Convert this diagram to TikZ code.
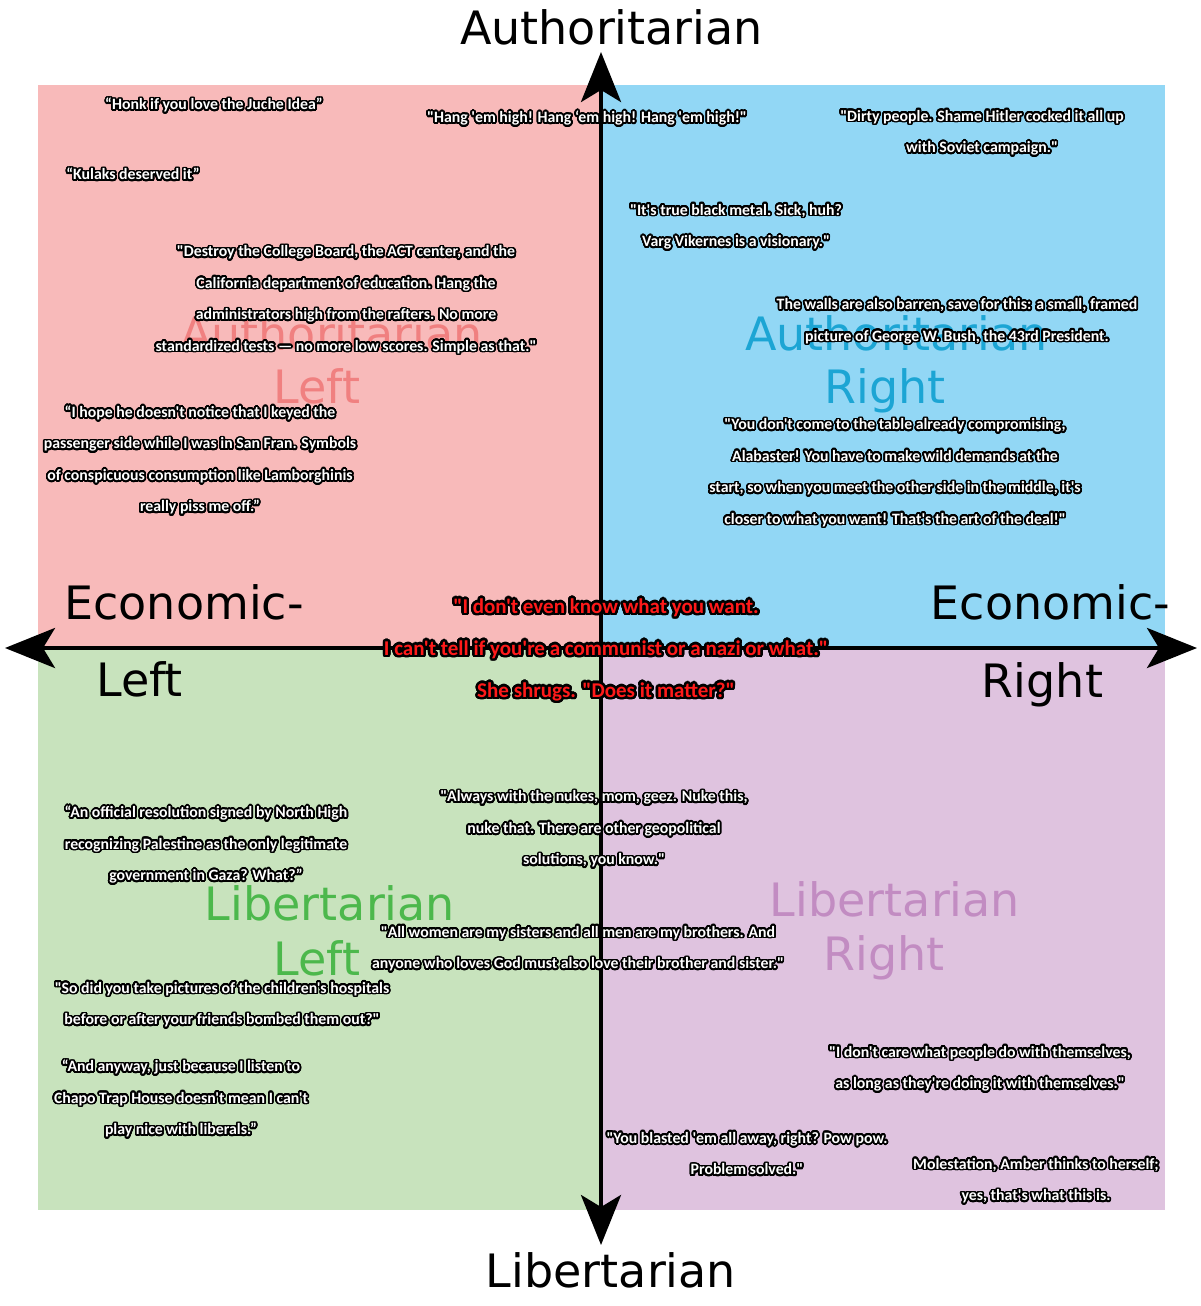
\documentclass[tikz,border=0pt]{standalone}
\usepackage{fontspec}
\usepackage[copies]{contour}
\usetikzlibrary{arrows.meta}
\newfontfamily\dvs{DejaVu Sans}
\newfontfamily\qf{Carlito}
\definecolor{bgAL}{HTML}{F8BABA}
\definecolor{bgAR}{HTML}{92D7F5}
\definecolor{bgLL}{HTML}{C8E3BD}
\definecolor{bgLR}{HTML}{DFC3DF}
\definecolor{tAL}{HTML}{F08080}
\definecolor{tAR}{HTML}{1CA5D4}
\definecolor{tLL}{HTML}{4CB84C}
\definecolor{tLR}{HTML}{C28CC2}
\definecolor{qred}{HTML}{FF1A1A}
\contournumber{32}
\newcommand\ql[1]{\contour{black}{#1}}
\tikzset{
  bigtxt/.style={font=\dvs\fontsize{46}{55}\selectfont, anchor=base, inner sep=0pt},
  quote/.style={font=\qf\bfseries\fontsize{15.8}{31.5}\selectfont\contourlength{1.7pt}, text=white, align=center, inner sep=0pt, yshift=-2pt},
  redquote/.style={font=\qf\bfseries\fontsize{21}{42}\selectfont\contourlength{2.4pt}, text=qred, align=center, inner sep=0pt},
  axis/.style={line width=4pt, draw=black, {Stealth[length=50pt,width=40pt,inset=12pt]}-{Stealth[length=50pt,width=40pt,inset=12pt]}}
}
\begin{document}
\begin{tikzpicture}[x=1pt,y=-1pt]
\useasboundingbox (0,0) rectangle (1200,1306);
% quadrants
\fill[bgAL] (38,85) rectangle (601,648);
\fill[bgAR] (601,85) rectangle (1165,648);
\fill[bgLL] (38,648) rectangle (601,1210);
\fill[bgLR] (601,648) rectangle (1165,1210);
% quadrant labels
\node[bigtxt, text=tAL] (alA) at (331.5,350) {Authoritarian};
\node[bigtxt, text=tAL] (alB) at (317,403) {Left};
\node[bigtxt, text=tAR] (arA) at (896.5,350) {Authoritarian};
\node[bigtxt, text=tAR] (arB) at (885,403) {Right};
\node[bigtxt, text=tLL] (llA) at (330,920) {Libertarian};
\node[bigtxt, text=tLL] (llB) at (317,975) {Left};
\node[bigtxt, text=tLR] (lrA) at (895,916) {Libertarian};
\node[bigtxt, text=tLR] (lrB) at (884,970) {Right};
% axes
\coordinate (axL) at (5,648);
\coordinate (axR) at (1197,648);
\coordinate (axT) at (601,52);
\coordinate (axB) at (601,1245);
\draw[axis] (axL) -- (axR);
\draw[axis] (axB) -- (axT);
% axis labels
\node[bigtxt] (top) at (611.5,45) {Authoritarian};
\node[bigtxt] (bot) at (611,1287) {Libertarian};
\node[bigtxt] (el) at (184,619) {Economic-};
\node[bigtxt] (ell) at (139.5,696) {Left};
\node[bigtxt] (er) at (1050.5,619) {Economic-};
\node[bigtxt] (err) at (1042.5,697) {Right};
% quotes
\node[quote] (q1) at (214,104) {\ql{“Honk if you love the Juche Idea”}};
\node[quote] (q2) at (133,173) {\ql{“Kulaks deserved it”}};
\node[quote] (q3) at (587,117) {\ql{"Hang 'em high! Hang ‘em high! Hang 'em high!"}};
\node[quote] (q4) at (982,131.5) {\ql{"Dirty people. Shame Hitler cocked it all up}\\\ql{with Soviet campaign."}};
\node[quote] (q5) at (736,225.5) {\ql{"It's true black metal. Sick, huh?}\\\ql{Varg Vikernes is a visionary."}};
\node[quote] (q6) at (346,298.5) {\ql{"Destroy the College Board, the ACT center, and the}\\\ql{California department of education. Hang the}\\\ql{administrators high from the rafters. No more}\\\ql{standardized tests — no more low scores. Simple as that."}};
\node[quote] (q7) at (957,320) {\ql{The walls are also barren, save for this: a small, framed}\\\ql{picture of George W. Bush, the 43rd President.}};
\node[quote] (q8) at (200,459) {\ql{“I hope he doesn't notice that I keyed the}\\\ql{passenger side while I was in San Fran. Symbols}\\\ql{of conspicuous consumption like Lamborghinis}\\\ql{really piss me off.”}};
\node[quote] (q9) at (895,471.5) {\ql{"You don't come to the table already compromising,}\\\ql{Alabaster! You have to make wild demands at the}\\\ql{start, so when you meet the other side in the middle, it's}\\\ql{closer to what you want! That's the art of the deal!"}};
\node[redquote] (q10) at (606,651) {\ql{"I don't even know what you want.}\\\ql{I can't tell if you're a communist or a nazi or what."}\\\ql{She shrugs. "Does it matter?"}};
\node[quote] (q11) at (206,843.5) {\ql{“An official resolution signed by North High}\\\ql{recognizing Palestine as the only legitimate}\\\ql{government in Gaza? What?”}};
\node[quote] (q12) at (594,828) {\ql{"Always with the nukes, mom, geez. Nuke this,}\\\ql{nuke that. There are other geopolitical}\\\ql{solutions, you know."}};
\node[quote] (q13) at (578,947.5) {\ql{"All women are my sisters and all men are my brothers. And}\\\ql{anyone who loves God must also love their brother and sister."}};
\node[quote] (q14) at (222,1003.5) {\ql{"So did you take pictures of the children's hospitals}\\\ql{before or after your friends bombed them out?"}};
\node[quote] (q15) at (181,1097.5) {\ql{“And anyway, just because I listen to}\\\ql{Chapo Trap House doesn't mean I can't}\\\ql{play nice with liberals.”}};
\node[quote] (q16) at (980,1067.5) {\ql{"I don't care what people do with themselves,}\\\ql{as long as they're doing it with themselves."}};
\node[quote] (q17) at (747,1152.5) {\ql{"You blasted 'em all away, right? Pow pow.}\\\ql{Problem solved."}};
\node[quote] (q18) at (1036,1179.5) {\ql{Molestation, Amber thinks to herself;}\\\ql{yes, that's what this is.}};
\end{tikzpicture}
\end{document}
